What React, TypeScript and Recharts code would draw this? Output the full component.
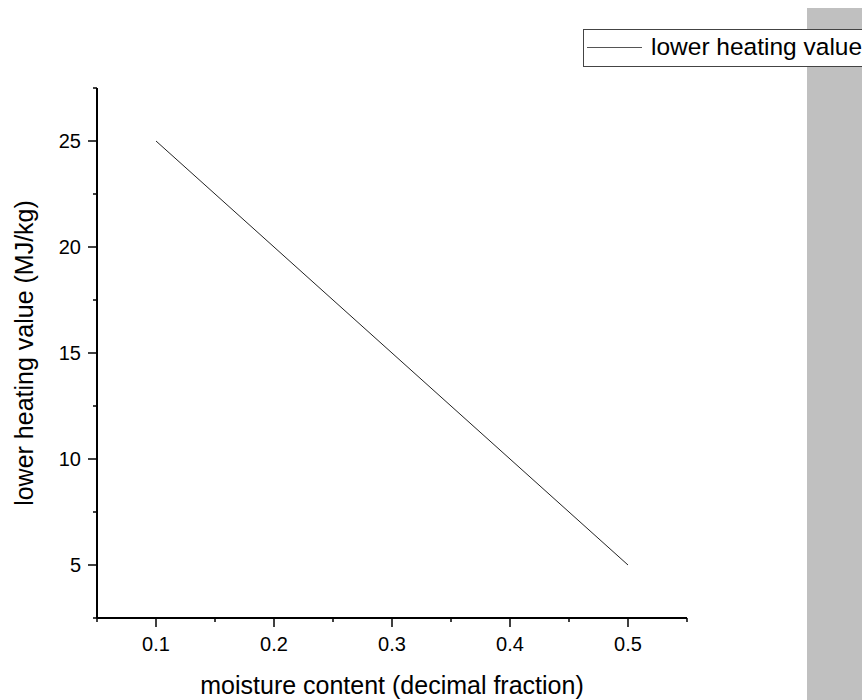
import React from 'react';
import { LineChart, Line, XAxis, YAxis } from 'recharts';

const moisture = [0.1, 0.2, 0.3, 0.4, 0.5];
const heatingValue = [25, 20, 15, 10, 5];
const xTicks = [0.05, 0.1, 0.15, 0.2, 0.25, 0.3, 0.35, 0.4, 0.45, 0.5, 0.55];
const xLabeled = [0.1, 0.2, 0.3, 0.4, 0.5];
const yTicks = [2.5, 5, 7.5, 10, 12.5, 15, 17.5, 20, 22.5, 25, 27.5];
const yLabeled = [5, 10, 15, 20, 25];
const seriesName = 'lower heating value';
const xTitle = 'moisture content (decimal fraction)';
const yTitle = 'lower heating value (MJ/kg)';

const data = moisture.map((m, i) => ({ m, v: heatingValue[i] }));

const FONT = '"Liberation Sans", Arial, sans-serif';

const isIn = (arr: number[], v: number) => arr.some((a) => Math.abs(a - v) < 1e-9);

const XTick = (props: any) => {
  const { x, y, payload } = props;
  const major = isIn(xLabeled, payload.value);
  return (
    <g>
      <line x1={x} x2={x} y1={y} y2={y + (major ? 9 : 4)} stroke="#000" strokeWidth={1.5} />
      {major && (
        <text x={x} y={y + 33} textAnchor="middle" fontSize={20} fontFamily={FONT} fill="#000">
          {payload.value}
        </text>
      )}
    </g>
  );
};

const YTick = (props: any) => {
  const { x, y, payload } = props;
  const major = isIn(yLabeled, payload.value);
  return (
    <g>
      <line x1={x} x2={x - (major ? 9 : 4)} y1={y} y2={y} stroke="#000" strokeWidth={1.5} />
      {major && (
        <text x={x - 16} y={y} dy="0.34em" textAnchor="end" fontSize={20} fontFamily={FONT} fill="#000">
          {payload.value}
        </text>
      )}
    </g>
  );
};

const XTitle = (props: any) => {
  const vb = props.viewBox;
  return (
    <text x={vb.x + vb.width / 2} y={vb.y + 76} textAnchor="middle" fontSize={25} fontFamily={FONT} fill="#000">
      {xTitle}
    </text>
  );
};

const YTitle = (props: any) => {
  const vb = props.viewBox;
  const cx = vb.x + vb.width - 64;
  const cy = vb.y + vb.height / 2;
  return (
    <text x={0} y={0} transform={`translate(${cx},${cy}) rotate(-90)`} textAnchor="middle" fontSize={25} fontFamily={FONT} fill="#000">
      {yTitle}
    </text>
  );
};

export default function App() {
  return (
    <div style={{ position: 'absolute', left: 0, top: 0, width: 862, height: 700, overflow: 'hidden', background: '#fff' }}>
      <div style={{ position: 'absolute', left: 807, top: 8, width: 55, height: 692, background: '#c0c0c0' }} />
      <div style={{ position: 'absolute', left: 0, top: 0 }}>
        <LineChart width={862} height={700} data={data} margin={{ top: 88, right: 175, bottom: 52, left: 37 }}>
          <XAxis
            dataKey="m"
            type="number"
            domain={[0.05, 0.55]}
            ticks={xTicks}
            interval={0}
            tickSize={0}
            tickMargin={0}
            tickLine={false}
            height={30}
            axisLine={{ stroke: '#000', strokeWidth: 2 }}
            tick={<XTick />}
            label={<XTitle />}
          />
          <YAxis
            type="number"
            domain={[2.5, 27.5]}
            ticks={yTicks}
            interval={0}
            tickSize={0}
            tickMargin={0}
            tickLine={false}
            width={60}
            axisLine={{ stroke: '#000', strokeWidth: 2 }}
            tick={<YTick />}
            label={<YTitle />}
          />
          <Line
            dataKey="v"
            name={seriesName}
            type="linear"
            stroke="#222"
            strokeWidth={1}
            dot={false}
            isAnimationActive={false}
          />
        </LineChart>
      </div>
      <div
        style={{
          position: 'absolute',
          left: 583,
          top: 29,
          width: 300,
          height: 36,
          border: '1px solid #444',
          background: '#fff',
          fontFamily: FONT,
          fontSize: 24.5,
          color: '#000',
          whiteSpace: 'nowrap',
        }}
      >
        <div style={{ position: 'absolute', left: 3, top: 17, width: 55, height: 1, background: '#555' }} />
        <div style={{ position: 'absolute', left: 67, top: 3, lineHeight: '28px' }}>{seriesName}</div>
      </div>
    </div>
  );
}
